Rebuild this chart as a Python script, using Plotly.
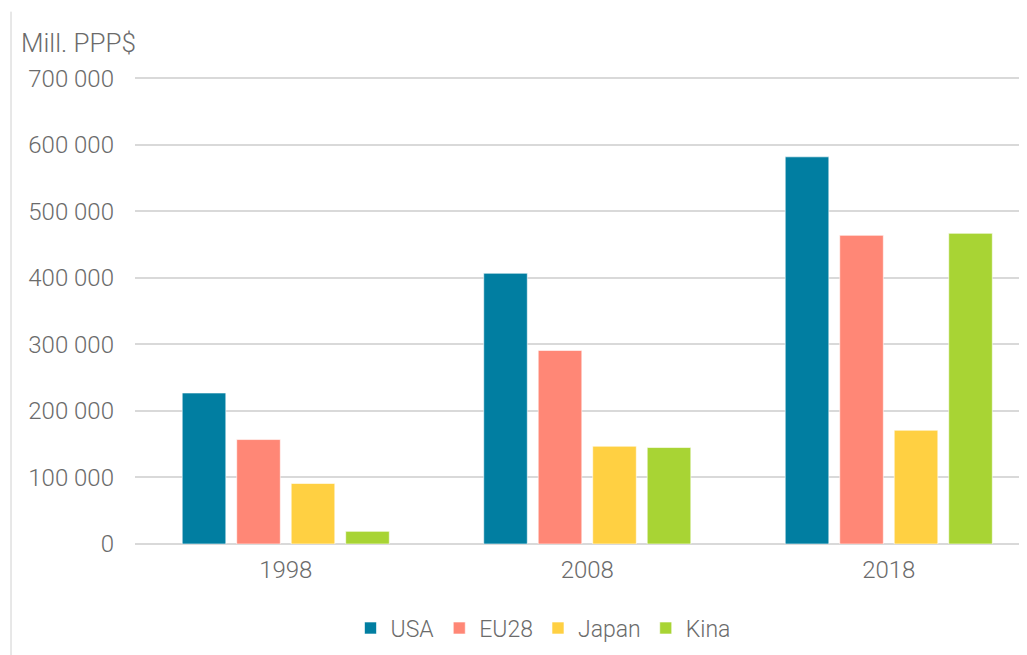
import plotly.graph_objects as go

years = ["1998", "2008", "2018"]
series_names = ["USA", "EU28", "Japan", "Kina"]
usa = [227000, 407000, 582000]
eu28 = [157000, 291000, 464000]
japan = [91000, 147000, 171000]
kina = [19000, 145000, 467000]
colors = ["#017EA1", "#FF8776", "#FFD042", "#A8D434"]
y_ticks = [0, 100000, 200000, 300000, 400000, 500000, 600000, 700000]
y_tick_labels = ["0", "100 000", "200 000", "300 000", "400 000", "500 000", "600 000", "700 000"]

fig = go.Figure()
for name, vals, col in zip(series_names, [usa, eu28, japan, kina], colors):
    fig.add_trace(go.Bar(
        name=name, x=years, y=vals,
        marker=dict(color=col, line=dict(color="rgba(255,255,255,0.6)", width=1)),
    ))

font_family = "Roboto"
grey = "#6b6b6b"

# page offset of 8px (default body margin) accounted for in margins
plot_left, plot_bottom, plot_h, plot_w = 127, 536, 466.7, 900
ymax = 702000
top_margin = plot_bottom - plot_h

fig.update_layout(
    width=1027, height=655,
    paper_bgcolor="white", plot_bgcolor="white",
    margin=dict(l=plot_left, r=0, t=top_margin, b=655 - plot_bottom),
    barmode="group", bargap=0.277, bargroupgap=0.2,
    font=dict(family=font_family, color=grey, size=23, weight=300),
    showlegend=True,
    legend=dict(orientation="h", xanchor="center", x=(535 - plot_left) / plot_w,
                yanchor="middle", y=(plot_bottom - 620) / plot_h,
                font=dict(size=23, color=grey, family=font_family, weight=300),
                itemwidth=30, traceorder="normal", bgcolor="rgba(0,0,0,0)"),
    xaxis=dict(type="category", range=[-0.5, 2.485], showgrid=False, showline=False,
               ticks="", tickfont=dict(size=24, color=grey, family=font_family, weight=300),
               ticklabelstandoff=9),
    yaxis=dict(range=[0, ymax], tickvals=y_ticks, ticktext=y_tick_labels,
               showgrid=True, gridcolor="#d9d9d9", gridwidth=2,
               zeroline=True, zerolinecolor="#d9d9d9", zerolinewidth=2,
               showline=False, ticks="", ticklabelstandoff=20,
               tickfont=dict(size=24, color=grey, family=font_family, weight=300)),
    annotations=[dict(text="Mill. PPP$", xref="paper", yref="paper",
                      x=(11 - plot_left) / plot_w, y=(plot_bottom - 35) / plot_h,
                      xanchor="left", yanchor="middle", showarrow=False,
                      font=dict(size=26, color=grey, family=font_family, weight=300))],
    shapes=[dict(type="line", xref="paper", yref="paper",
                 x0=(3 - plot_left) / plot_w, x1=(3 - plot_left) / plot_w,
                 y0=(plot_bottom - 4) / plot_h, y1=(plot_bottom - 660) / plot_h,
                 line=dict(color="#d0d0d0", width=1))],
)

fig.write_html("out.html")
